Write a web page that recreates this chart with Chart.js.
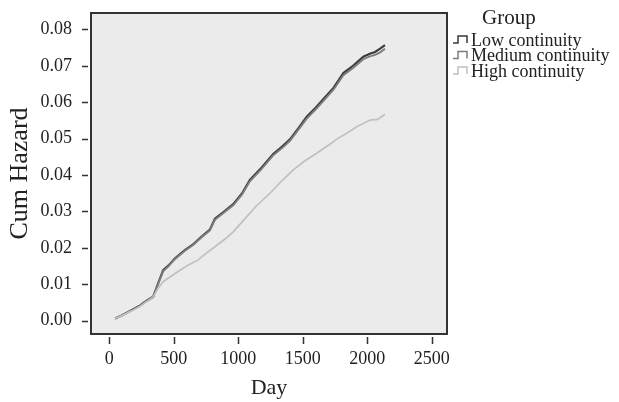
<!DOCTYPE html>
<html>
<head>
<meta charset="utf-8">
<script src="https://cdn.jsdelivr.net/npm/chart.js@4"></script>
<style>
  html, body { margin: 0; padding: 0; background: #fff; }
  #wrap { width: 619px; height: 402px; }
</style>
</head>
<body>
<div id="wrap"><canvas id="hazardChart" width="619" height="402"></canvas></div>
<script>
// values
const groupNames = ["Low continuity", "Medium continuity", "High continuity"];
const groupColors = ["#3a3a3a", "#7d7d7d", "#c0c0c0"];

const lowDays = [45, 100, 172, 240, 276, 320, 340, 360, 379, 418, 460, 508, 586, 650, 716, 780, 819, 890, 961, 1030, 1090, 1180, 1271, 1340, 1401, 1470, 1531, 1600, 1659, 1740, 1815, 1890, 1970, 2020, 2061, 2100, 2138];
const lowHazard = [0.0006, 0.0015, 0.0029, 0.0042, 0.0052, 0.0062, 0.0066, 0.0085, 0.0103, 0.0139, 0.0152, 0.0171, 0.0194, 0.0210, 0.0231, 0.0250, 0.0280, 0.0300, 0.0320, 0.0350, 0.0387, 0.0420, 0.0458, 0.0478, 0.0498, 0.0530, 0.0560, 0.0585, 0.0608, 0.0640, 0.0680, 0.0700, 0.0725, 0.0733, 0.0738, 0.0747, 0.0757];

const mediumDays = [45, 100, 172, 240, 276, 320, 340, 360, 379, 418, 460, 508, 586, 650, 716, 780, 819, 890, 961, 1030, 1090, 1180, 1271, 1340, 1401, 1470, 1531, 1600, 1659, 1740, 1815, 1890, 1970, 2020, 2061, 2100, 2138];
const mediumHazard = [0.0006, 0.0015, 0.0028, 0.0041, 0.0051, 0.0060, 0.0064, 0.0083, 0.0101, 0.0136, 0.0150, 0.0169, 0.0192, 0.0208, 0.0229, 0.0248, 0.0277, 0.0297, 0.0317, 0.0347, 0.0383, 0.0416, 0.0454, 0.0474, 0.0494, 0.0526, 0.0555, 0.0580, 0.0603, 0.0635, 0.0674, 0.0694, 0.0718, 0.0726, 0.0730, 0.0737, 0.0747];

const highDays = [45, 100, 172, 240, 300, 340, 380, 418, 470, 534, 600, 689, 750, 819, 900, 961, 1039, 1140, 1246, 1340, 1427, 1520, 1608, 1700, 1770, 1841, 1930, 2022, 2080, 2138];
const highHazard = [0.0006, 0.0014, 0.0027, 0.0040, 0.0055, 0.0065, 0.0090, 0.0107, 0.0120, 0.0135, 0.0150, 0.0167, 0.0185, 0.0203, 0.0225, 0.0244, 0.0275, 0.0315, 0.0350, 0.0385, 0.0414, 0.0440, 0.0460, 0.0482, 0.0500, 0.0515, 0.0535, 0.0551, 0.0553, 0.0567];

const dayTicks = [0, 500, 1000, 1500, 2000, 2500];
const hazardTicks = [0, 0.01, 0.02, 0.03, 0.04, 0.05, 0.06, 0.07, 0.08];

const serif = "'Liberation Serif', 'DejaVu Serif', serif";
const inkColor = "#222";

function toPoints(xs, ys) {
    return xs.map((x, i) => ({ x: x, y: ys[i] }));
}

// grey panel, frame, outside tick marks and the "Group" key
const panelPlugin = {
    id: "panel",
    beforeDraw(chart) {
        const { ctx, chartArea: a } = chart;
        ctx.save();
        ctx.fillStyle = "#ebebeb";
        ctx.fillRect(a.left, a.top, a.right - a.left, a.bottom - a.top);
        ctx.restore();
    },
    afterDraw(chart) {
        const { ctx, chartArea: a, scales } = chart;
        ctx.save();
        ctx.strokeStyle = "#333";
        ctx.lineWidth = 2;
        ctx.strokeRect(a.left, a.top, a.right - a.left, a.bottom - a.top);

        ctx.lineWidth = 1.5;
        ctx.beginPath();
        hazardTicks.forEach(v => {
            const y = Math.round(scales.y.getPixelForValue(v)) + 0.5;
            ctx.moveTo(a.left - 9, y);
            ctx.lineTo(a.left - 3, y);
        });
        dayTicks.forEach(v => {
            const x = Math.round(scales.x.getPixelForValue(v)) + 0.5;
            ctx.moveTo(x, a.bottom + 3);
            ctx.lineTo(x, a.bottom + 10);
        });
        ctx.stroke();

        // key
        const kx = a.right + 6;
        ctx.fillStyle = inkColor;
        ctx.textBaseline = "middle";
        ctx.textAlign = "left";
        ctx.font = "21px " + serif;
        ctx.fillText("Group", kx + 29, 18);
        ctx.font = "18px " + serif;
        groupNames.forEach((name, i) => {
            const cy = 40 + i * 15.5;
            ctx.strokeStyle = groupColors[i];
            ctx.lineWidth = 1.5;
            ctx.beginPath();
            ctx.moveTo(kx, cy + 3);
            ctx.lineTo(kx + 5, cy + 3);
            ctx.lineTo(kx + 5, cy - 4);
            ctx.lineTo(kx + 14, cy - 4);
            ctx.lineTo(kx + 14, cy + 3);
            ctx.stroke();
            ctx.fillStyle = inkColor;
            ctx.fillText(name, kx + 18, cy + 1);
        });
        ctx.restore();
    }
};

const ctx = document.getElementById("hazardChart").getContext("2d");
new Chart(ctx, {
    type: "line",
    data: {
        datasets: [
            { label: groupNames[2], data: toPoints(highDays, highHazard), borderColor: groupColors[2], borderWidth: 1.7 },
            { label: groupNames[1], data: toPoints(mediumDays, mediumHazard), borderColor: groupColors[1], borderWidth: 1.9 },
            { label: groupNames[0], data: toPoints(lowDays, lowHazard), borderColor: groupColors[0], borderWidth: 2.1 }
        ]
    },
    options: {
        responsive: false,
        animation: false,
        events: [],
        elements: { point: { radius: 0 }, line: { tension: 0 } },
        layout: { padding: { left: 0, right: 172, top: 13, bottom: 0 } },
        plugins: { legend: { display: false }, tooltip: { enabled: false } },
        scales: {
            x: {
                type: "linear",
                min: -142,
                max: 2619,
                afterFit(scale) {
                    scale.height = 68;
                    scale.paddingLeft = 0;
                    scale.paddingRight = 0;
                },
                afterBuildTicks(scale) { scale.ticks = dayTicks.map(v => ({ value: v })); },
                grid: { display: true, drawOnChartArea: false, drawTicks: false },
                border: { display: false },
                ticks: { padding: 14, color: inkColor, font: { family: serif, size: 18 }, maxRotation: 0, callback: v => String(v) },
                title: { display: true, text: "Day", color: inkColor, font: { family: serif, size: 22 }, padding: { top: 0, bottom: 1 } }
            },
            y: {
                type: "linear",
                min: -0.00365,
                max: 0.0845,
                afterFit(scale) {
                    scale.width = 91;
                    scale.paddingTop = 0;
                    scale.paddingBottom = 0;
                },
                afterBuildTicks(scale) { scale.ticks = hazardTicks.map(v => ({ value: v })); },
                grid: { display: true, drawOnChartArea: false, drawTicks: false },
                border: { display: false },
                ticks: { padding: 19, color: inkColor, font: { family: serif, size: 18 }, callback: v => v.toFixed(2) },
                title: { display: true, text: "Cum Hazard", color: inkColor, font: { family: serif, size: 26 }, padding: { top: 5 } }
            }
        }
    },
    plugins: [panelPlugin]
});
</script>
</body>
</html>
